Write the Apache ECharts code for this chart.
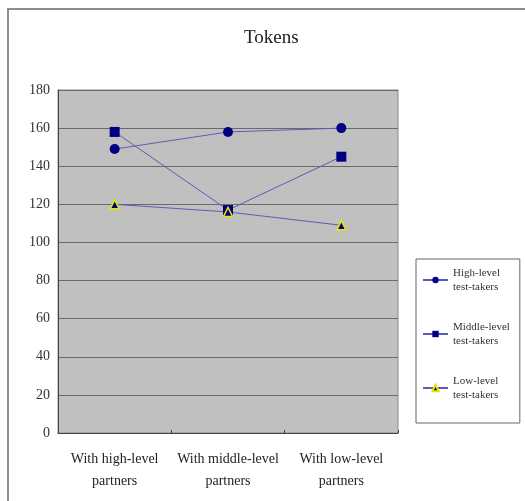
<!DOCTYPE html>
<html>
<head>
<meta charset="utf-8">
<script src="https://cdn.jsdelivr.net/npm/echarts@6/dist/echarts.min.js"></script>
<style>
  html, body { margin: 0; padding: 0; background: #fff; }
  #chart { width: 525px; height: 501px; }
</style>
</head>
<body>
<div id="chart"></div>
<script>
const categories = ['With high-level\npartners', 'With middle-level\npartners', 'With low-level\npartners']
const highLevel = [149, 158, 160]
const middleLevel = [158, 117, 145]
const lowLevel = [120, 116, 109]
const seriesNames = ['High-level\ntest-takers', 'Middle-level\ntest-takers', 'Low-level\ntest-takers']

const serif = '"Liberation Serif", "DejaVu Serif", serif'
const lineColor = '#5c5cb8'
const markColor = '#000080'

const chart = echarts.init(document.getElementById('chart'))

const makeSeries = (name, data, symbol, size, border) => ({
  name,
  type: 'line',
  data,
  symbol,
  symbolSize: size,
  lineStyle: { color: lineColor, width: 1 },
  itemStyle: {
    color: markColor,
    borderColor: border || markColor,
    borderWidth: border ? 1.5 : 0
  },
  emphasis: { disabled: true },
  animation: false
})

chart.setOption({
  backgroundColor: '#fff',
  animation: false,
  title: {
    text: 'Tokens',
    left: 239,
    top: 24,
    textStyle: { fontFamily: serif, fontSize: 19, fontWeight: 'normal', color: '#222' }
  },
  graphic: [{
    type: 'rect',
    shape: { x: 8, y: 9, width: 540, height: 520 },
    style: { fill: 'none', stroke: '#8c8c8c', lineWidth: 2 },
    silent: true
  }],
  grid: {
    left: 58,
    right: 127,
    top: 90,
    bottom: 68,
    show: true,
    backgroundColor: '#c0c0c0',
    borderColor: '#8a8a8a',
    borderWidth: 1
  },
  legend: {
    orient: 'vertical',
    left: 416,
    top: 259,
    padding: [0, 10, 14, 6],
    itemGap: 12,
    itemWidth: 25,
    itemHeight: 8,
    borderColor: '#666',
    borderWidth: 1,
    selectedMode: false,
    textStyle: {
      fontFamily: serif,
      fontSize: 11,
      lineHeight: 14,
      color: '#333',
      padding: [14, 0, 0, 0]
    },
    data: seriesNames
  },
  xAxis: {
    type: 'category',
    data: categories,
    boundaryGap: true,
    axisLine: { lineStyle: { color: '#444' } },
    axisTick: { show: true, inside: true, length: 3, lineStyle: { color: '#444' } },
    axisLabel: {
      interval: 0,
      margin: 15,
      fontFamily: serif,
      fontSize: 14,
      lineHeight: 22,
      color: '#222'
    }
  },
  yAxis: {
    type: 'value',
    min: 0,
    max: 180,
    interval: 20,
    axisLine: { show: true, lineStyle: { color: '#444' } },
    axisTick: { show: false },
    axisLabel: { margin: 8, fontFamily: serif, fontSize: 14, color: '#333' },
    splitLine: { lineStyle: { color: '#6a6a6a', width: 1 } }
  },
  series: [
    makeSeries(seriesNames[0], highLevel, 'circle', 10),
    makeSeries(seriesNames[1], middleLevel, 'rect', 10),
    makeSeries(seriesNames[2], lowLevel, 'triangle', 9, '#e6e600')
  ]
})
</script>
</body>
</html>
